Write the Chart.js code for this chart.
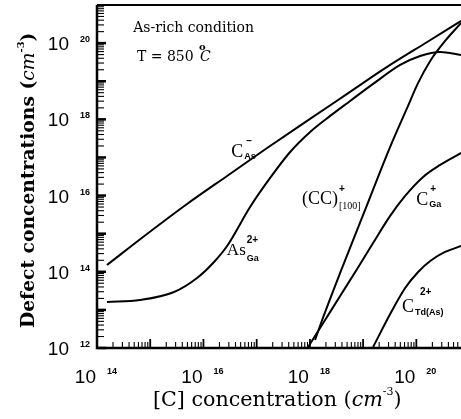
<!DOCTYPE html>
<html>
<head>
<meta charset="utf-8">
<script src="https://cdn.jsdelivr.net/npm/chart.js@4.4.0/dist/chart.umd.min.js"></script>
<style>
  body { margin: 0; background: #fff; }
  #wrap { width: 461px; height: 419px; }
</style>
</head>
<body>
<div id="wrap"><canvas id="myChart" width="461" height="419"></canvas></div>
<script>
// values, [C] concentration vs defect concentration (cm^-3)
const cAsX = [1.54e14, 8.7e14, 4.92e15, 2.78e16, 1.57e17, 8.85e17, 5.0e18, 2.82e19, 1.6e20, 6.95e20];
const cAsY = [1.51e14, 9.8e14, 6.0e15, 3.27e16, 1.77e17, 9.1e17, 4.65e18, 2.37e19, 1.07e20, 3.83e20];

const asGaX = [1.54e14, 6.43e14, 2.8e15, 7.58e15, 1.58e16, 2.78e16, 7.52e16, 1.79e17, 4.25e17, 1.01e18, 2.4e18, 5.7e18, 1.54e19, 4.96e19, 1.18e20, 2.8e20, 6.95e20];
const asGaY = [1.61e13, 1.82e13, 2.95e13, 6.88e13, 1.81e14, 4.75e14, 5.02e15, 2.9e16, 1.39e17, 4.67e17, 1.23e18, 3.04e18, 8.49e18, 2.68e19, 4.61e19, 5.87e19, 4.9e19];

const ccX = [1.25e18, 1.7e18, 3.7e18, 1.09e19, 3.22e19, 6.72e19, 1.08e20, 1.82e20, 3.47e20, 6.95e20];
const ccY = [1.62e12, 5.43e12, 9.31e13, 4.19e15, 1.89e17, 1.99e18, 9.02e18, 3.41e19, 1.14e20, 3.39e20];

const cGaX = [9.25e17, 1.93e18, 3.7e18, 7.71e18, 1.54e19, 3.22e19, 6.16e19, 1.34e20, 2.8e20, 6.95e20];
const cGaY = [1.06e12, 5.43e12, 2.32e13, 1.18e14, 5.7e14, 2.92e15, 9.77e15, 3.08e16, 6.35e16, 1.31e17];

const cTdX = [1.54e19, 3.22e19, 6.16e19, 1.08e20, 1.82e20, 3.47e20, 6.95e20];
const cTdY = [1.06e12, 7.8e12, 3.76e13, 9.89e13, 1.92e14, 3.31e14, 4.75e14];

const xTickExps = [14, 16, 18, 20];
const yTickExps = [12, 14, 16, 18, 20];

const serif = '"Liberation Serif", "DejaVu Serif", serif';
const wideSerif = '"DejaVu Serif", serif';
const sans = '"Liberation Sans", Arial, sans-serif';

function pts(xs, ys) {
  return xs.map((x, i) => ({x: x, y: ys[i]}));
}

function curve(xs, ys) {
  return {
    data: pts(xs, ys),
    showLine: true,
    borderColor: '#000',
    borderWidth: 2,
    pointRadius: 0,
    cubicInterpolationMode: 'monotone',
    fill: false
  };
}

// draw "main" with stacked superscript / subscript after it
function rich(ctx, x, y, main, sup, sub, o) {
  ctx.font = o.mainFont;
  ctx.fillText(main, x, y);
  const w = ctx.measureText(main).width;
  if (sup) {
    ctx.font = o.supFont;
    ctx.fillText(sup, x + w + (o.supDx || 1), y - o.rise);
  }
  if (sub) {
    ctx.font = o.subFont;
    ctx.fillText(sub, x + w + (o.subDx || 1), y + o.drop);
  }
}

// axis title of the form  "text (cm^-3)", sized to span `len` px
function unitTitle(ctx, text, len, weight) {
  const parts = (size) => [
    {t: text + ' (', f: weight + size + 'px ' + wideSerif, dy: 0},
    {t: 'cm', f: 'italic ' + size + 'px ' + wideSerif, dy: 0},
    {t: '-3', f: weight + Math.round(size * 0.55) + 'px ' + wideSerif, dy: -size * 0.55},
    {t: ')', f: weight + size + 'px ' + wideSerif, dy: 0}
  ];
  let size = 20, w = 0;
  parts(size).forEach(p => { ctx.font = p.f; w += ctx.measureText(p.t).width; });
  size = size * len / w;
  let x = 0;
  parts(size).forEach(p => {
    ctx.font = p.f;
    ctx.fillText(p.t, x, p.dy);
    x += ctx.measureText(p.t).width;
  });
}

const decor = {
  id: 'decor',
  afterDraw(chart) {
    const ctx = chart.ctx;
    const a = chart.chartArea;
    const xs = chart.scales.x, ys = chart.scales.y;
    const px = (e) => xs.getPixelForValue(Math.pow(10, e));
    const py = (e) => ys.getPixelForValue(Math.pow(10, e));
    ctx.save();
    ctx.strokeStyle = '#000';
    ctx.fillStyle = '#000';

    // frame
    ctx.lineWidth = 2.5;
    ctx.beginPath();
    ctx.moveTo(a.left, a.top);
    ctx.lineTo(a.left, a.bottom);
    ctx.lineTo(a.right, a.bottom);
    ctx.stroke();
    ctx.lineWidth = 2;
    ctx.beginPath();
    ctx.moveTo(a.left, a.top);
    ctx.lineTo(a.right, a.top);
    ctx.stroke();

    // inside ticks, y axis
    for (let d = 12; d < 21; d++) {
      for (let m = 1; m < 10; m++) {
        const yy = ys.getPixelForValue(m * Math.pow(10, d));
        if (yy < a.top || yy > a.bottom) continue;
        ctx.lineWidth = m === 1 ? 2.5 : 1.1;
        ctx.beginPath();
        ctx.moveTo(a.left, yy);
        ctx.lineTo(a.left + (m === 1 ? 9 : 7), yy);
        ctx.stroke();
      }
    }
    // inside ticks, x axis
    for (let d = 14; d < 21; d++) {
      for (let m = 1; m < 10; m++) {
        const xx = xs.getPixelForValue(m * Math.pow(10, d));
        if (xx < a.left || xx > a.right) continue;
        ctx.lineWidth = m === 1 ? 1.8 : 1.1;
        ctx.beginPath();
        ctx.moveTo(xx, a.bottom);
        ctx.lineTo(xx, a.bottom - (m === 1 ? 9 : 6));
        ctx.stroke();
      }
    }

    // tick labels 10^n
    ctx.textBaseline = 'alphabetic';
    const big = '19px ' + sans, small = 'bold 9px ' + sans;
    yTickExps.forEach(e => {
      const yy = py(e);
      ctx.font = big;
      ctx.textAlign = 'right';
      ctx.fillText('10', 69, yy + 7);
      ctx.font = small;
      ctx.textAlign = 'left';
      ctx.fillText(String(e), 80, yy - 1);
    });
    xTickExps.forEach(e => {
      const xx = px(e);
      ctx.font = big;
      ctx.textAlign = 'right';
      ctx.fillText('10', xx - 1, 383);
      ctx.font = small;
      ctx.textAlign = 'left';
      ctx.fillText(String(e), xx + 10, 374);
    });

    // axis titles
    ctx.textAlign = 'left';
    ctx.save();
    ctx.translate(153, 406);
    unitTitle(ctx, '[C] concentration', 249, '');
    ctx.restore();

    ctx.save();
    ctx.translate(34, 328);
    ctx.rotate(-Math.PI / 2);
    unitTitle(ctx, 'Defect concentrations', 296, 'bold ');
    ctx.restore();

    // conditions
    ctx.font = '14px ' + wideSerif;
    ctx.fillText('As-rich condition', px(14.68), py(20.29));
    ctx.fillText('T = 850', px(14.75), py(19.53));
    ctx.font = 'italic 14px ' + wideSerif;
    ctx.fillText('C', px(14.75) + 63, py(19.53));
    ctx.font = 'bold 10px ' + wideSerif;
    ctx.fillText('o', px(14.75) + 62, py(19.53) - 11);

    // curve labels
    const lab = {mainFont: '18px ' + serif, supFont: 'bold 10px ' + sans, subFont: 'bold 9px ' + sans, rise: 13, drop: 2};
    rich(ctx, px(16.52), py(17.01), 'C', '\u2013', 'As', Object.assign({}, lab, {supDx: 3}));
    rich(ctx, px(16.44), py(14.44), 'As', '2+', 'Ga', Object.assign({}, lab, {mainFont: '17px ' + serif, rise: 12, drop: 6}));
    rich(ctx, px(17.85), py(15.78), '(CC)', '+', '[100]', Object.assign({}, lab, {subFont: '10px ' + serif, rise: 12, drop: 5}));
    rich(ctx, px(20.0), py(15.75), 'C', '+', 'Ga', Object.assign({}, lab, {supDx: 2, drop: 2}));
    rich(ctx, px(19.73), py(12.95), 'C', '2+', 'Td(As)', Object.assign({}, lab, {rise: 17, drop: 3, supDx: 6}));

    ctx.restore();
  }
};

const ctx = document.getElementById('myChart').getContext('2d');
const myChart = new Chart(ctx, {
  type: 'scatter',
  data: {
    datasets: [
      curve(cAsX, cAsY),
      curve(asGaX, asGaY),
      curve(ccX, ccY),
      curve(cGaX, cGaY),
      curve(cTdX, cTdY)
    ]
  },
  options: {
    responsive: false,
    animation: false,
    devicePixelRatio: 1,
    layout: { padding: { top: 5, left: 0, right: 0, bottom: 0 } },
    plugins: { legend: { display: false }, tooltip: { enabled: false } },
    scales: {
      x: {
        type: 'logarithmic',
        min: 1e14,
        max: 6.9e20,
        ticks: { display: false },
        grid: { display: false },
        border: { display: false },
        afterFit(s) { s.height = 71; }
      },
      y: {
        type: 'logarithmic',
        min: 1e12,
        max: 1e21,
        ticks: { display: false },
        grid: { display: false },
        border: { display: false },
        afterFit(s) { s.width = 97; }
      }
    }
  },
  plugins: [decor]
});
</script>
</body>
</html>
